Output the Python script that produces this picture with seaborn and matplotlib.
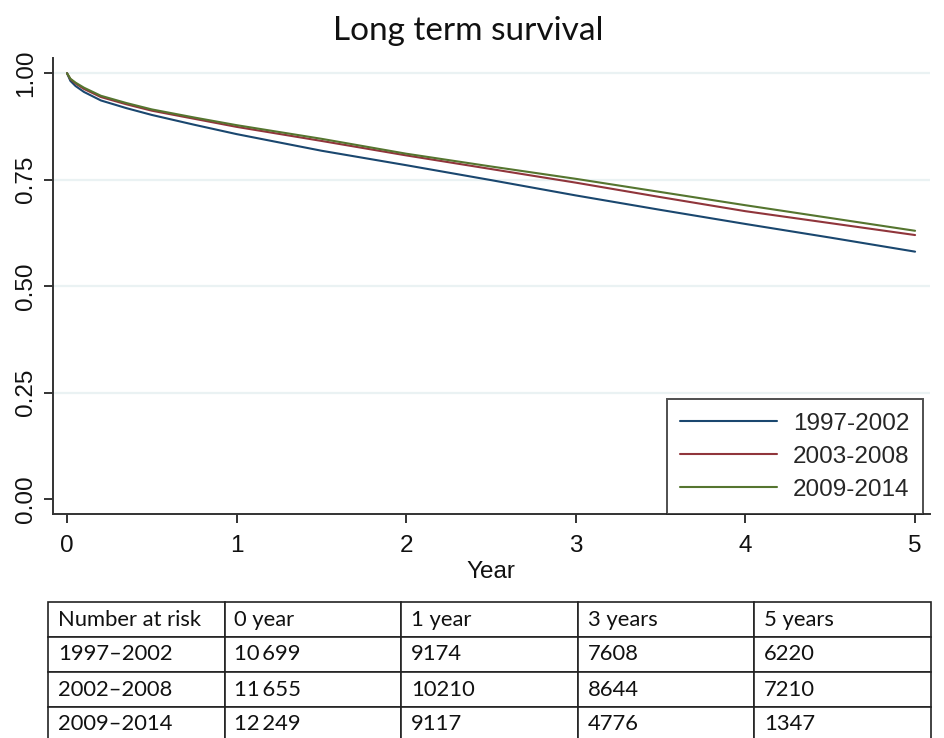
import numpy as np
import pandas as pd
import matplotlib
matplotlib.use("Agg")
import matplotlib.pyplot as plt
import seaborn as sns

# ---- data ----
years = [0, 0.02, 0.05, 0.1, 0.2, 0.35, 0.5, 0.75, 1.0, 1.5, 2.0, 2.5, 3.0, 3.5, 4.0, 4.5, 5.0]
surv_1997_2002 = [1.0, 0.982, 0.970, 0.956, 0.936, 0.918, 0.902, 0.879, 0.857, 0.818, 0.784, 0.749, 0.713, 0.679, 0.646, 0.614, 0.581]
surv_2003_2008 = [1.0, 0.986, 0.976, 0.963, 0.944, 0.927, 0.912, 0.893, 0.874, 0.841, 0.807, 0.775, 0.743, 0.709, 0.676, 0.648, 0.620]
surv_2009_2014 = [1.0, 0.987, 0.978, 0.966, 0.947, 0.930, 0.915, 0.896, 0.878, 0.846, 0.811, 0.781, 0.752, 0.721, 0.690, 0.660, 0.630]
series_names = ["1997-2002", "2003-2008", "2009-2014"]

x_ticks = [0, 1, 2, 3, 4, 5]
y_ticks = [0.00, 0.25, 0.50, 0.75, 1.00]
y_ticklabels = ["0.00", "0.25", "0.50", "0.75", "1.00"]

table_header = ["Number at risk", "0 year", "1 year", "3 years", "5 years"]
table_rows = ["1997\u20132002", "2002\u20132008", "2009\u20132014"]
risk_0y = ["10\u2009699", "11\u2009655", "12\u2009249"]
risk_1y = ["9174", "10210", "9117"]
risk_3y = ["7608", "8644", "4776"]
risk_5y = ["6220", "7210", "1347"]

# ---- build long table ----
df = pd.DataFrame({
    "Year": years * 3,
    "Survival": surv_1997_2002 + surv_2003_2008 + surv_2009_2014,
    "Period": sum([[n] * len(years) for n in series_names], []),
})

sns.set_theme(style="white")
plt.rcParams["font.family"] = ["Liberation Sans", "DejaVu Sans"]

W, H = 944, 738
fig = plt.figure(figsize=(W / 100, H / 100), dpi=100)

def px_axes(l, t, r, b):
    return fig.add_axes([l / W, 1 - b / H, (r - l) / W, (b - t) / H])

ax = px_axes(52.5, 58.3, 930, 514)

palette = {"1997-2002": "#1a476f", "2003-2008": "#90353b", "2009-2014": "#55752f"}
for yv in [0.25, 0.5, 0.75, 1.0]:
    ax.axhline(yv, color="#eaf2f3", lw=1.6, zorder=0)

sns.lineplot(data=df, x="Year", y="Survival", hue="Period", palette=palette,
             hue_order=series_names, lw=1.5, ax=ax, legend=True, zorder=3)

ax.set_xlim(-0.0855, 5.088)
ax.set_ylim(-0.035, 1.035)
ax.set_xticks(x_ticks)
ax.set_xticklabels([str(t) for t in x_ticks])
ax.set_yticks(y_ticks)
ax.set_yticklabels(y_ticklabels, rotation=90, va="center")
ax.tick_params(axis="both", which="major", bottom=True, left=True, direction="out",
               length=6.8, width=1.4, color="#333333",
               labelsize=17.5, labelcolor="#111111")
ax.tick_params(axis="x", pad=8)
ax.tick_params(axis="y", pad=4.4)
for s in ["top", "right"]:
    ax.spines[s].set_visible(False)
for s in ["left", "bottom"]:
    ax.spines[s].set_color("#333333")
    ax.spines[s].set_linewidth(1.4)
ax.set_ylabel("")
ax.set_xlabel("Year", fontsize=17.5, color="#111111")
ax.xaxis.label.set_va("center")
ax.xaxis.set_label_coords((491 - 52.5) / (930 - 52.5), -(572 - 514) / (514 - 58.3))

leg = ax.legend(loc="lower right", bbox_to_anchor=((923 - 52.5) / (930 - 52.5), 0.0),
                borderaxespad=0, frameon=True, fancybox=False, fontsize=17.5,
                handlelength=4.0, handletextpad=0.65, labelspacing=0.45, borderpad=0.55)
leg.get_frame().set_edgecolor("#222222")
leg.get_frame().set_linewidth(1.4)
for h in leg.get_lines():
    h.set_linewidth(1.5)

fig.text(468 / W, 1 - 31 / H, "Long term survival", ha="center", va="center",
         fontsize=24, family=["Lato", "DejaVu Sans"], color="#111111")

# ---- number at risk table ----
tax = px_axes(48, 602, 931, 742)
tax.axis("off")
cells = [table_header] + [[table_rows[i], risk_0y[i], risk_1y[i], risk_3y[i], risk_5y[i]] for i in range(3)]
tbl = tax.table(cellText=cells, cellLoc="left", bbox=[0, 0, 1, 1])
tbl.auto_set_font_size(False)
for (r, c), cell in tbl.get_celld().items():
    cell.set_edgecolor("#222222")
    cell.set_linewidth(1.2)
    cell.PAD = 0.055
    cell.get_text().set_fontsize(15.8)
    cell.get_text().set_fontfamily(["Lato", "DejaVu Sans"])
    cell.get_text().set_color("#111111")

fig.savefig("out.png", dpi=100)
